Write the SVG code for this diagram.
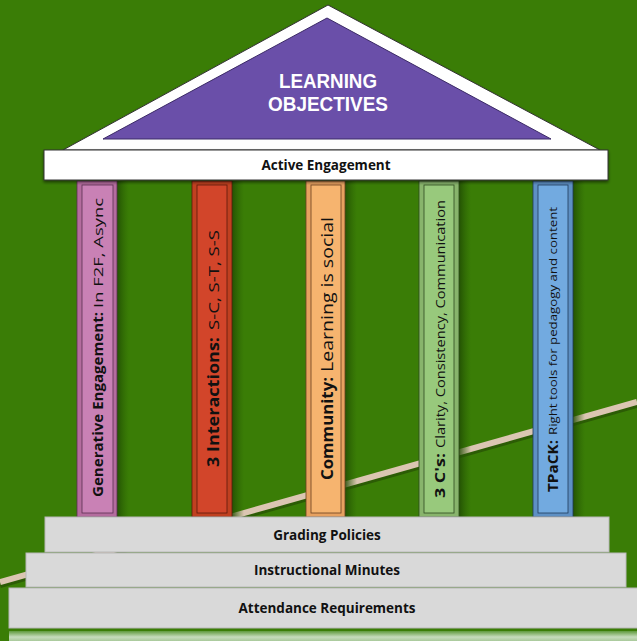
<svg xmlns="http://www.w3.org/2000/svg" width="637" height="641" viewBox="0 0 637 641">
<defs>
<style>
.lbl{font-family:"Open Sans","DejaVu Sans",sans-serif;fill:#111;}
.b{font-weight:700;}
.step{fill:#d9d9d9;stroke:#b8b8b8;stroke-width:1;}
.steptxt{font-family:"Open Sans","DejaVu Sans",sans-serif;font-weight:700;font-size:13.5px;fill:#111;text-anchor:middle;}
.title{font-family:"Liberation Sans","Arial",sans-serif;font-weight:700;font-size:20px;fill:#fff;}
.shadow{fill:url(#sh);}
</style>
<linearGradient id="sh" x1="0" y1="0" x2="1" y2="0">
<stop offset="0" stop-color="#1f4a03" stop-opacity="0.85"/>
<stop offset="1" stop-color="#2a6004" stop-opacity="0"/>
</linearGradient>
<linearGradient id="base" x1="0" y1="0" x2="0" y2="1">
<stop offset="0" stop-color="#5f9a3c"/>
<stop offset="0.6" stop-color="#c6dcbc"/>
<stop offset="1" stop-color="#a9c99a"/>
</linearGradient>
<filter id="ds" x="-5%" y="-5%" width="110%" height="120%">
<feDropShadow dx="0" dy="2" stdDeviation="1.5" flood-color="#000" flood-opacity="0.5"/>
</filter>
</defs>
<rect width="637" height="641" fill="#3a7d06"/>
<g id="diagonal">
<line x1="0" y1="585" x2="637" y2="405" stroke="#2c5c05" stroke-width="6"/>
<line x1="0" y1="582" x2="637" y2="402" stroke="#dbc6b2" stroke-width="6"/>
</g>
<g id="roof">
<polygon points="63,150 328,5 600,150" fill="#ffffff" stroke="#333" stroke-width="1" filter="url(#ds)"/>
<polygon points="103,139 327,18 551,139" fill="#6a4fa9" stroke="#3b2a66" stroke-width="1"/>
<text class="title" x="279" y="88" textLength="98" lengthAdjust="spacingAndGlyphs">LEARNING</text>
<text class="title" x="268" y="111" textLength="120" lengthAdjust="spacingAndGlyphs">OBJECTIVES</text>
</g>
<g id="pillar1">
<rect class="shadow" x="117" y="181" width="12" height="336"/>
<rect x="77" y="181" width="40" height="336" fill="#b46c9e" stroke="#5a3050" stroke-width="0.8"/>
<rect x="82" y="185" width="31" height="328" fill="#c981b5" stroke="#5a3050" stroke-width="0.8"/>
<g transform="translate(98,497) rotate(-90)">
<text class="lbl b" x="0" y="5" font-size="15" textLength="185" lengthAdjust="spacingAndGlyphs">Generative Engagement:</text>
<text class="lbl" x="189" y="4.5" font-size="12" textLength="110" lengthAdjust="spacingAndGlyphs">In F2F, Async</text>
</g>
</g>
<g id="pillar2">
<rect class="shadow" x="232" y="181" width="12" height="336"/>
<rect x="192" y="181" width="40" height="336" fill="#c04020" stroke="#5a1a0a" stroke-width="0.8"/>
<rect x="197" y="185" width="30" height="328" fill="#d2452a" stroke="#5a1a0a" stroke-width="0.8"/>
<g transform="translate(213,467) rotate(-90)">
<text class="lbl b" x="0" y="5.5" font-size="16" textLength="130" lengthAdjust="spacingAndGlyphs">3 Interactions:</text>
<text class="lbl" x="137" y="5.5" font-size="15" textLength="100" lengthAdjust="spacingAndGlyphs">S-C, S-T, S-S</text>
</g>
</g>
<g id="pillar3">
<rect class="shadow" x="345" y="181" width="12" height="336"/>
<rect x="306" y="181" width="39" height="336" fill="#e7a160" stroke="#6a4020" stroke-width="0.8"/>
<rect x="311" y="185" width="30" height="328" fill="#f6b46f" stroke="#6a4020" stroke-width="0.8"/>
<g transform="translate(327,480) rotate(-90)">
<text class="lbl b" x="0" y="5.5" font-size="16" textLength="103" lengthAdjust="spacingAndGlyphs">Community:</text>
<text class="lbl" x="108" y="5.5" font-size="16" textLength="155" lengthAdjust="spacingAndGlyphs">Learning is social</text>
</g>
</g>
<g id="pillar4">
<rect class="shadow" x="459" y="181" width="12" height="336"/>
<rect x="419" y="181" width="40" height="336" fill="#88b46c" stroke="#2e4a20" stroke-width="0.8"/>
<rect x="424" y="185" width="30" height="328" fill="#98c97c" stroke="#2e4a20" stroke-width="0.8"/>
<g transform="translate(440,498) rotate(-90)">
<text class="lbl b" x="0" y="5" font-size="14" textLength="45" lengthAdjust="spacingAndGlyphs">3 C's:</text>
<text class="lbl" x="50" y="4.5" font-size="13" textLength="248" lengthAdjust="spacingAndGlyphs">Clarity, Consistency, Communication</text>
</g>
</g>
<g id="pillar5">
<rect class="shadow" x="573" y="181" width="12" height="336"/>
<rect x="533" y="181" width="40" height="336" fill="#5e90c4" stroke="#203a5a" stroke-width="0.8"/>
<rect x="538" y="185" width="30" height="328" fill="#72aae0" stroke="#203a5a" stroke-width="0.8"/>
<g transform="translate(553,492) rotate(-90)">
<text class="lbl b" x="0" y="5" font-size="15" textLength="52" lengthAdjust="spacingAndGlyphs">TPaCK:</text>
<text class="lbl" x="57" y="4" font-size="11.5" textLength="228" lengthAdjust="spacingAndGlyphs">Right tools for pedagogy and content</text>
</g>
</g>
<g id="active-engagement">
<rect x="44" y="150" width="564" height="30" fill="#ffffff" stroke="#333" stroke-width="1" filter="url(#ds)"/>
<text x="326" y="170" font-family="'Open Sans','DejaVu Sans',sans-serif" font-weight="700" font-size="13.5" fill="#111" text-anchor="middle">Active Engagement</text>
</g>
<g id="grading-policies">
<rect class="step" x="45" y="517" width="564" height="35"/>
<text class="steptxt" x="327" y="540">Grading Policies</text>
</g>
<g id="instructional-minutes">
<rect class="step" x="26" y="553" width="600" height="34"/>
<text class="steptxt" x="327" y="575">Instructional Minutes</text>
</g>
<g id="attendance-requirements">
<rect class="step" x="9" y="588" width="632" height="40"/>
<text class="steptxt" x="327" y="613">Attendance Requirements</text>
</g>
<rect x="9" y="631" width="630" height="10" fill="url(#base)"/>
</svg>
